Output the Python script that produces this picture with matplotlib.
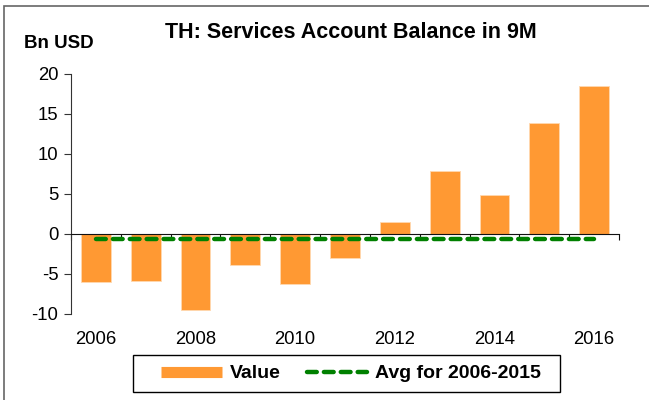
import matplotlib
matplotlib.use("Agg")
import matplotlib.pyplot as plt
import numpy as np
from matplotlib.lines import Line2D
from matplotlib.patches import Rectangle

years = [2006, 2007, 2008, 2009, 2010, 2011, 2012, 2013, 2014, 2015, 2016]
values = [-6.0, -5.9, -9.5, -3.9, -6.2, -3.0, 1.5, 7.9, 4.9, 13.9, 18.5]
avg_value = -0.65
year_labels = ["2006", "", "2008", "", "2010", "", "2012", "", "2014", "", "2016"]
yticks = [-10, -5, 0, 5, 10, 15, 20]

plt.rcParams['font.family'] = ['Liberation Sans', 'DejaVu Sans']

W, H = 649, 400
fig = plt.figure(figsize=(W / 100, H / 100), dpi=100)
ax = fig.add_axes([71 / W, 1 - 314 / H, 548 / W, 240 / H])

x = np.arange(len(years))
ax.bar(x, values, width=0.6, color='#FF9933', edgecolor='#FFD9B0', linewidth=0.6, zorder=2)
ax.plot(x, [avg_value] * len(x), color='#008000', linewidth=3.2,
        linestyle=(0, (2.2, 1.6)), dash_capstyle='round', zorder=3)

ax.set_xlim(-0.5, len(years) - 0.5)
ax.set_ylim(-10, 20)
ax.set_yticks(yticks)
ax.set_yticklabels([str(v) for v in yticks])

ax.spines['top'].set_visible(False)
ax.spines['right'].set_visible(False)
ax.spines['bottom'].set_position(('data', 0))
ax.spines['left'].set_color('#333333')
ax.spines['bottom'].set_color('#111111')

ax.set_xticks(np.arange(len(years) + 1) - 0.5)
ax.set_xticklabels([])
ax.tick_params(axis='x', which='major', direction='out', length=4, color='#111111')
ax.set_xticks(x, minor=True)
ax.set_xticklabels(year_labels, minor=True)
ax.tick_params(axis='x', which='minor', length=0, pad=70, labelsize=13.3)
ax.tick_params(axis='y', direction='out', length=5, pad=4, labelsize=13.3, color='#333333')

fig.text(350.5 / W, 1 - 33 / H, "TH: Services Account Balance in 9M",
         ha='center', va='center', fontsize=15.5, fontweight='bold')
fig.text(24 / W, 1 - 44 / H, "Bn USD", ha='left', va='center',
         fontsize=13.5, fontweight='bold')

handles = [Line2D([0], [0], color='#FF9933', linewidth=8, solid_capstyle='butt'),
           Line2D([0], [0], color='#008000', linewidth=3.2,
                  linestyle=(0, (2.2, 1.6)), dash_capstyle='round')]
leg = fig.legend(handles, ["Value", "Avg for 2006-2015"], loc='center',
                 bbox_to_anchor=(351 / W, 1 - 373.5 / H), ncol=2,
                 frameon=False, handlelength=3.1, columnspacing=1.35,
                 handletextpad=0.4, borderpad=0.0, borderaxespad=0,
                 prop={'weight': 'bold', 'size': 14})

fig.patches.append(Rectangle((133 / W, 1 - 392 / H), 427 / W, 37 / H,
                             transform=fig.transFigure, fill=True, facecolor='white',
                             edgecolor='black', linewidth=1.0, zorder=0))

fig.patches.append(Rectangle((4 / W, -0.1), 1.2, 1.1 - 6 / H, transform=fig.transFigure,
                             fill=False, edgecolor='#666666', linewidth=1.2))

fig.savefig("out.png", dpi=100)
